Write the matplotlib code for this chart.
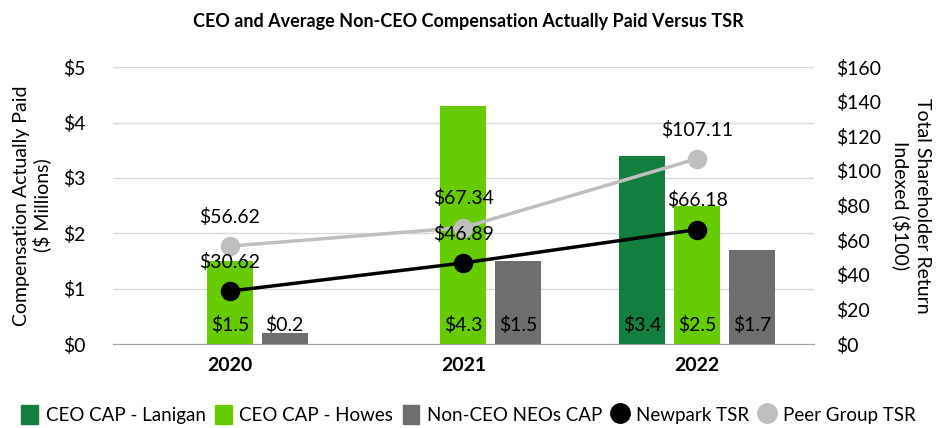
import matplotlib
matplotlib.use("Agg")
import matplotlib.pyplot as plt
from matplotlib.patches import Patch
from matplotlib.lines import Line2D
import numpy as np

plt.rcParams['font.family'] = ['Lato', 'DejaVu Sans']

years = ["2020", "2021", "2022"]
lanigan = [None, None, 3.4]
howes = [1.5, 4.3, 2.5]
non_ceo = [0.2, 1.5, 1.7]
newpark_tsr = [30.62, 46.89, 66.18]
peer_tsr = [56.62, 67.34, 107.11]

c_lan = "#137F3E"
c_how = "#66CC00"
c_non = "#6E6E6E"
c_peer = "#BFBFBF"
c_np = "#000000"

fs = 14

fig = plt.figure(figsize=(9.37, 4.28), dpi=100)
ax = fig.add_axes([0.1206, 0.196, 0.748, 0.6472])
ax2 = ax.twinx()

x = np.arange(len(years))
w = 0.197
off = 0.235

### bars + labels at the base
series = [(lanigan, c_lan, -off), (howes, c_how, 0), (non_ceo, c_non, off)]
for vals, col, dx in series:
    for xi, v in zip(x, vals):
        if v is None:
            continue
        ax.bar(xi + dx, v, width=w, color=col, zorder=2)
        ax.annotate("$%.1f" % v, (xi + dx, 0), xytext=(0, 14), textcoords="offset points",
                    ha="center", va="center", fontsize=fs, zorder=5)

ax.set_ylim(0, 5)
ax.set_xlim(-0.5, 2.5)
ax.set_yticks(range(0, 6))
ax.set_yticklabels(["$%d" % v for v in range(0, 6)])
ax.set_xticks(x)
ax.set_xticklabels(years, fontweight="bold")
ax.grid(axis="y", color="#D9D9D9", linewidth=1, zorder=0)
ax.set_axisbelow(True)
ax.tick_params(axis="y", length=0, pad=20, labelsize=fs)
ax.tick_params(axis="x", length=0, pad=9, labelsize=fs)
for s in ["top", "left", "right"]:
    ax.spines[s].set_visible(False)
ax.spines["bottom"].set_color("#A0A0A0")
ax.set_ylabel("Compensation Actually Paid\n($ Millions)", fontsize=fs, labelpad=8)

### TSR lines
ax2.plot(x, peer_tsr, color=c_peer, linewidth=2.5, marker="o", markersize=13, zorder=3)
ax2.plot(x, newpark_tsr, color=c_np, linewidth=2.5, marker="o", markersize=13, zorder=4)
for xi, v in zip(x, peer_tsr):
    ax2.annotate("$%.2f" % v, (xi, v), xytext=(0, 21), textcoords="offset points",
                 ha="center", va="center", fontsize=fs)
for xi, v in zip(x, newpark_tsr):
    ax2.annotate("$%.2f" % v, (xi, v), xytext=(0, 21), textcoords="offset points",
                 ha="center", va="center", fontsize=fs)
ax2.set_ylim(0, 160)
ax2.set_yticks(range(0, 161, 20))
ax2.set_yticklabels(["$%d" % v for v in range(0, 161, 20)])
ax2.tick_params(axis="y", length=0, pad=16, labelsize=fs)
for s in ["top", "left", "right", "bottom"]:
    ax2.spines[s].set_visible(False)
ax2.set_ylabel("Total Shareholder Return\nIndexed ($100)", fontsize=fs, rotation=270,
               labelpad=36)

fig.suptitle("CEO and Average Non-CEO Compensation Actually Paid Versus TSR",
             fontsize=13, fontweight="bold", y=0.97)

handles = [
    Patch(color=c_lan, label="CEO CAP - Lanigan"),
    Patch(color=c_how, label="CEO CAP - Howes"),
    Patch(color=c_non, label="Non-CEO NEOs CAP"),
    Line2D([], [], color=c_np, marker="o", linestyle="none", markersize=14, label="Newpark TSR"),
    Line2D([], [], color=c_peer, marker="o", linestyle="none", markersize=14, label="Peer Group TSR"),
]
fig.legend(handles=handles, loc="lower center", bbox_to_anchor=(0.5, -0.022), ncol=5,
           frameon=False, fontsize=13.5, handlelength=0.9, handleheight=1.2,
           handletextpad=0.4, columnspacing=0.5, borderaxespad=0.3)

fig.savefig("out.png", dpi=100)
